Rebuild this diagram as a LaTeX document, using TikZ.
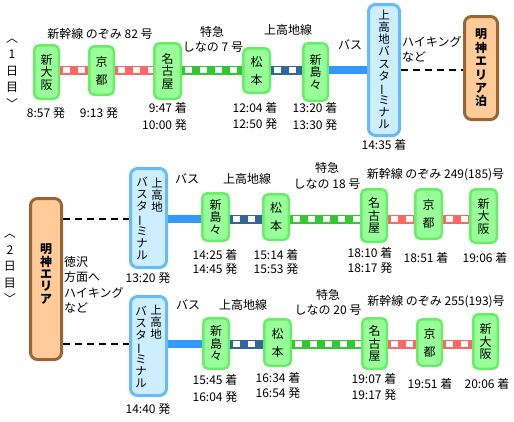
\documentclass[tikz,border=0pt]{standalone}
\usepackage{fontspec}
\setmainfont{Noto Sans CJK JP}
\definecolor{stnfill}{RGB}{153,255,153}
\definecolor{stnline}{RGB}{102,238,102}
\definecolor{termfill}{RGB}{204,238,255}
\definecolor{termline}{RGB}{102,187,255}
\definecolor{lodgefill}{RGB}{255,204,153}
\definecolor{lodgeline}{RGB}{153,102,51}
\definecolor{railred}{RGB}{255,102,102}
\definecolor{railgreen}{RGB}{51,200,51}
\definecolor{railblue}{RGB}{51,102,153}
\definecolor{busblue}{RGB}{51,153,255}
\newcommand{\vbar}{\rotatebox[origin=c]{90}{ー}}
\begin{document}
\begin{tikzpicture}[x=1pt,y=-1pt,
  lbl/.style={inner sep=0pt, font=\fontsize{12}{12}\selectfont},
  stn/.style={draw=stnline, fill=stnfill, line width=2.5pt, rounded corners=5pt, inner sep=0pt, align=center},
  stthree/.style={stn, font=\fontsize{12}{12.5}\selectfont},
  sttwo/.style={stn, font=\fontsize{12}{18}\selectfont},
  term/.style={draw=termline, fill=termfill, line width=3pt, rounded corners=7pt, inner sep=0pt},
  lodge/.style={draw=lodgeline, fill=lodgefill, line width=3pt, rounded corners=7pt, inner sep=0pt, align=center},
  vtxt/.style={inner sep=0pt, align=center, font=\fontsize{11.5}{12.1}\selectfont},
  rail/.style={line width=9pt, postaction={draw=white, line width=5.5pt, dash pattern=on 7pt off 8pt, dash phase=12pt}},
  redrail/.style={rail, draw=railred},
  greenrail/.style={rail, draw=railgreen},
  bluerail/.style={rail, draw=railblue},
  busline/.style={draw=busblue, line width=8pt},
  walk/.style={draw=black, line width=2pt, dash pattern=on 7pt off 5pt},
  day/.style={inner sep=0pt, align=center, font=\fontsize{12}{16.5}\selectfont},
]
\useasboundingbox (0,0) rectangle (514,421);

% ---------- Day 1 ----------
\node[day] (d1) at (12,73.5) {︿\\1\\日\\目\\﹀};

\node[stthree, minimum width=24.5, minimum height=53.5] (b11) at (46.5,72) {新\\大\\阪};
\node[sttwo, minimum width=24.5, minimum height=48.5] (b12) at (101.5,70.5) {京\\都};
\node[stthree, minimum width=26.5, minimum height=55.5] (b13) at (167.5,71) {名\\古\\屋};
\node[sttwo, minimum width=26.5, minimum height=44.5] (b14) at (256.5,70.5) {松\\本};
\node[stthree, minimum width=24.5, minimum height=57.5] (b15) at (315.5,72) {新\\島\\々};
\node[term, minimum width=31, minimum height=131] (T1) at (384,70) {};
\node[vtxt] (T1t) at (384,69.5) {上\\高\\地\\バ\\ス\\タ\\\vbar\\ミ\\ナ\\ル};
\node[lodge, minimum width=33, minimum height=103, font=\bfseries\fontsize{12}{13.4}\selectfont] (M1) at (481,68) {明\\神\\エ\\リ\\ア\\泊};

\coordinate (L1) at (0,70);
\draw[redrail] (b11.east |- L1) -- (b12.west |- L1);
\draw[redrail] (b12.east |- L1) -- (b13.west |- L1);
\draw[greenrail] (b13.east |- L1) -- (b14.west |- L1);
\draw[bluerail] (b14.east |- L1) -- (b15.west |- L1);
\draw[busline] (b15.east |- L1) -- (T1.west |- L1);
\draw[walk] (T1.east |- L1) -- (M1.west |- L1);

\node[lbl] (l11) at (100,34) {新幹線 のぞみ 82 号};
\node[lbl] (l12) at (212,32) {特急};
\node[lbl] (l13) at (213,47.5) {しなの 7 号};
\node[lbl] (l14) at (288,30) {上高地線};
\node[lbl] (l15) at (350,45) {バス};
\node[lbl, anchor=west] (l16) at (402,42) {ハイキング};
\node[lbl, anchor=west] (l17) at (402,57) {など};

\node[lbl] (t11) at (46,113) {8:57 発};
\node[lbl] (t12) at (99,113) {9:13 発};
\node[lbl, anchor=east] (t13) at (187,108) {9:47 着};
\node[lbl, anchor=east] (t14) at (187,124.5) {10:00 発};
\node[lbl] (t15) at (255,108) {12:04 着};
\node[lbl] (t16) at (255,124) {12:50 発};
\node[lbl] (t17) at (315,108) {13:20 着};
\node[lbl] (t18) at (315,125) {13:30 発};
\node[lbl] (t19) at (384,145) {14:35 着};

% ---------- Day 2 ----------
\node[day] (d2) at (10,269) {︿\\2\\日\\目\\﹀};

\node[lodge, minimum width=31, minimum height=161] (M2) at (46,279) {};
\node[inner sep=0pt, align=center, font=\bfseries\fontsize{12}{12.4}\selectfont] (M2t) at (46,274) {明\\神\\エ\\リ\\ア};

\node[lbl, anchor=west] (l21) at (64,262) {徳沢};
\node[lbl, anchor=west] (l22) at (64,277) {方面へ};
\node[lbl, anchor=west] (l23) at (64,293) {ハイキング};
\node[lbl, anchor=west] (l24) at (64,308) {など};

% upper route
\node[term, minimum width=36, minimum height=99] (T2) at (148.5,218) {};
\node[vtxt] (T2a) at (157,195) {上\\高\\地};
\node[vtxt] (T2b) at (142,218.5) {バ\\ス\\タ\\\vbar\\ミ\\ナ\\ル};
\node[stthree, minimum width=26.5, minimum height=47.5] (b21) at (215.5,217) {新\\島\\々};
\node[sttwo, minimum width=25.5, minimum height=45.5] (b22) at (276,217) {松\\本};
\node[stthree, minimum width=25.5, minimum height=52.5] (b23) at (374,215.5) {名\\古\\屋};
\node[sttwo, minimum width=26.5, minimum height=49.5] (b24) at (428.5,214) {京\\都};
\node[stthree, minimum width=26.5, minimum height=53.5] (b25) at (483.5,216) {新\\大\\阪};

\coordinate (L2) at (0,219);
\draw[walk] (M2.east |- L2) -- (T2.west |- L2);
\draw[busline] (T2.east |- L2) -- (b21.west |- L2);
\draw[bluerail] (b21.east |- L2) -- (b22.west |- L2);
\draw[greenrail] (b22.east |- L2) -- (b23.west |- L2);
\draw[redrail] (b23.east |- L2) -- (b24.west |- L2);
\draw[redrail] (b24.east |- L2) -- (b25.west |- L2);

\node[lbl] (l25) at (187,179) {バス};
\node[lbl] (l26) at (247,179) {上高地線};
\node[lbl] (l27) at (327,168) {特急};
\node[lbl] (l28) at (327,184) {しなの 18 号};
\node[lbl] (l29) at (435.5,175) {新幹線 のぞみ 249(185)号};

\node[lbl] (t21) at (148,278) {13:20 発};
\node[lbl] (t22) at (215,255) {14:25 着};
\node[lbl] (t23) at (215,268.5) {14:45 発};
\node[lbl] (t24) at (276,255) {15:14 着};
\node[lbl] (t25) at (276,268.5) {15:53 発};
\node[lbl] (t26) at (370,253) {18:10 着};
\node[lbl] (t27) at (370,268) {18:17 発};
\node[lbl] (t28) at (426,258) {18:51 着};
\node[lbl] (t29) at (485,258) {19:06 着};

% lower route
\node[term, minimum width=36, minimum height=99] (T3) at (148.5,346) {};
\node[vtxt] (T3a) at (156,322) {上\\高\\地};
\node[vtxt] (T3b) at (141,347) {バ\\ス\\タ\\\vbar\\ミ\\ナ\\ル};
\node[stthree, minimum width=25.5, minimum height=50.5] (b31) at (216,343.5) {新\\島\\々};
\node[sttwo, minimum width=26.5, minimum height=46.5] (b32) at (277.5,342.5) {松\\本};
\node[stthree, minimum width=24.5, minimum height=50.5] (b33) at (374.5,343.5) {名\\古\\屋};
\node[sttwo, minimum width=24.5, minimum height=46.5] (b34) at (429.5,342.5) {京\\都};
\node[stthree, minimum width=24.5, minimum height=54.5] (b35) at (485.5,341.5) {新\\大\\阪};

\coordinate (L3) at (0,344);
\draw[walk] (M2.east |- L3) -- (T3.west |- L3);
\draw[busline] (T3.east |- L3) -- (b31.west |- L3);
\draw[bluerail] (b31.east |- L3) -- (b32.west |- L3);
\draw[greenrail] (b32.east |- L3) -- (b33.west |- L3);
\draw[redrail] (b33.east |- L3) -- (b34.west |- L3);
\draw[redrail] (b34.east |- L3) -- (b35.west |- L3);

\node[lbl] (l31) at (188,305) {バス};
\node[lbl] (l32) at (243,305) {上高地線};
\node[lbl] (l33) at (328,295) {特急};
\node[lbl] (l34) at (328,310) {しなの 20 号};
\node[lbl] (l35) at (436,302) {新幹線 のぞみ 255(193)号};

\node[lbl] (t31) at (148,409) {14:40 発};
\node[lbl] (t32) at (215,380) {15:45 着};
\node[lbl] (t33) at (215,397) {16:04 発};
\node[lbl] (t34) at (278,378) {16:34 着};
\node[lbl] (t35) at (278,393) {16:54 発};
\node[lbl] (t36) at (374,379) {19:07 着};
\node[lbl] (t37) at (374,395) {19:17 発};
\node[lbl] (t38) at (430,384) {19:51 着};
\node[lbl] (t39) at (487,384) {20:06 着};
\end{tikzpicture}
\end{document}
